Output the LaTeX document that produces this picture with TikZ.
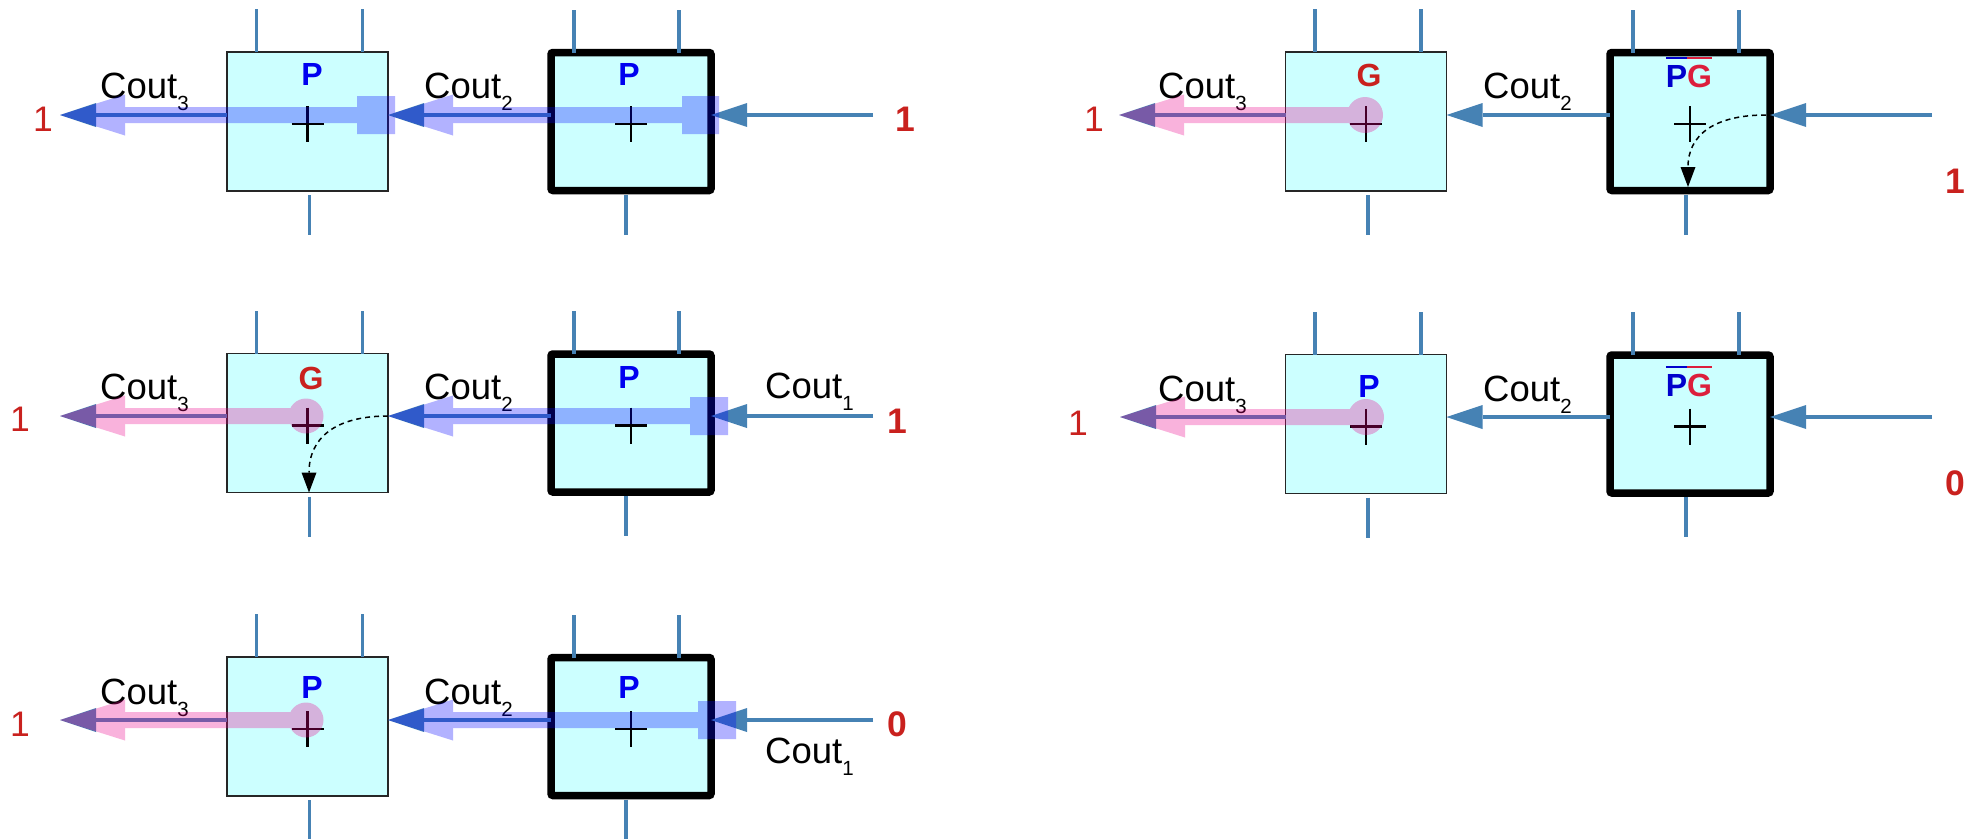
\documentclass[tikz,border=0pt]{standalone}
\usepackage{fontspec}
\setmainfont{Liberation Sans}
\usetikzlibrary{arrows.meta}
\definecolor{cyanfill}{HTML}{CCFFFF}
\definecolor{steel}{HTML}{4682B4}
\definecolor{pblue}{HTML}{0000F0}
\definecolor{pgblue}{HTML}{0000CC}
\definecolor{lred}{HTML}{C9211E}
\definecolor{gred}{HTML}{DC1E3C}
\newcommand\ovl[1]{\setbox0\hbox{#1}\rlap{\rule[28.3pt]{\wd0}{1.6pt}}\box0}
\newcommand\subs[1]{\raisebox{-12pt}{\fontsize{20.5}{20.5}\selectfont #1}}
\tikzset{
  thinbox/.style={draw=black!85, line width=1.3pt, fill=cyanfill, minimum width=161pt, minimum height=139pt, inner sep=0pt, outer sep=0pt},
  thickbox/.style={draw=black, line width=7.5pt, fill=cyanfill, rounded corners=2pt, minimum width=160pt, minimum height=138pt, inner sep=0pt, outer sep=0pt},
  pin/.style={steel, line width=3.5pt},
  sig/.style={steel, line width=3.5pt, -{Triangle[length=36pt,width=24pt,line width=0pt]}},
  hlb/.style={blue, line width=16pt, -{Triangle[length=65pt,width=41pt,line width=0pt]}},
  hlm/.style={magenta, line width=16pt, -{Triangle[length=65pt,width=41pt,line width=0pt]}},
  plusmark/.style={black, line width=2.7pt},
  flow/.style={black, line width=1.5pt, dash pattern=on 5pt off 4pt, -{Triangle[length=20pt,width=15pt,line width=0pt]}},
  coutlbl/.style={anchor=base west, inner sep=0pt, font=\fontsize{36.5}{40}\selectfont},
  boxlbl/.style={anchor=base, inner sep=0pt, font=\fontsize{32}{34}\selectfont\bfseries},
  num/.style={anchor=base, inner sep=0pt, text=lred, font=\fontsize{35.5}{40}\selectfont},
  bnum/.style={anchor=base, inner sep=0pt, text=lred, font=\fontsize{35.5}{40}\selectfont\bfseries},
}
\begin{document}
\begin{tikzpicture}[x=1pt,y=-1pt]
\fill[white] (0,0) rectangle (1975,838);
\useasboundingbox (0,0) rectangle (1975,838);

% boxes
\node[thinbox]  (L1a) at (307.5,121.5) {};
\node[thickbox] (L1b) at (631,121.5) {};
\node[thinbox]  (L2a) at (307.5,423) {};
\node[thickbox] (L2b) at (631,423) {};
\node[thinbox]  (L3a) at (307.5,726.5) {};
\node[thickbox] (L3b) at (631,726.5) {};
\node[thinbox]  (R1a) at (1366,121.5) {};
\node[thickbox] (R1b) at (1690,121.5) {};
\node[thinbox]  (R2a) at (1366,424) {};
\node[thickbox] (R2b) at (1690,424) {};

% pins and plus marks
\foreach \b/\l/\r/\d in {L1a/-51/55/2,L2a/-51/55/2,L3a/-51/55/2,R1a/-51/55/2,R2a/-51/55/2,
                         L1b/-57/48/-5,L2b/-57/48/-5,L3b/-57/48/-5,R1b/-57/49/-4,R2b/-57/49/-4}{
  \draw[pin] ([xshift=\l]\b.north) -- ++(0,-43);
  \draw[pin] ([xshift=\r]\b.north) -- ++(0,-43);
  \draw[pin] ([xshift=\d,yshift=-4]\b.south) -- ++(0,40);
  \coordinate (\b p) at ([yshift=-2.5]\b.center);
  \draw[plusmark] ([xshift=-16]\b p) -- ([xshift=16]\b p)
                  ([yshift=18]\b p) -- ([yshift=-18]\b p);
}

% signal levels and free ends
\coordinate (L1y) at (0,115);
\coordinate (L2y) at (0,416);
\coordinate (L3y) at (0,720);
\coordinate (R1y) at (0,115);
\coordinate (R2y) at (0,417);
\coordinate (L1in) at (873,115);  \coordinate (L1out) at (60,115);
\coordinate (L2in) at (873,416);  \coordinate (L2out) at (60,416);
\coordinate (L3in) at (873,720);  \coordinate (L3out) at (60,720);
\coordinate (R1in) at (1932,115); \coordinate (R1out) at (1119,115);
\coordinate (R2in) at (1932,417); \coordinate (R2out) at (1120,417);

\foreach \r in {L1,L2,L3,R1,R2}{
  \draw[sig] (\r in) -- (\r b.east |- \r y);
  \draw[sig] (\r b.west |- \r y) -- (\r a.east |- \r y);
  \draw[sig] (\r a.west |- \r y) -- (\r out);
}

% labels
\node[coutlbl] (L1c3) at (100,98) {Cout\subs{3}};
\node[coutlbl] (L1c2) at (424,98) {Cout\subs{2}};
\node[coutlbl] (L2c3) at (100,399) {Cout\subs{3}};
\node[coutlbl] (L2c2) at (424,399) {Cout\subs{2}};
\node[coutlbl] (L2c1) at (765,398) {Cout\subs{1}};
\node[coutlbl] (L3c3) at (100,704) {Cout\subs{3}};
\node[coutlbl] (L3c2) at (424,704) {Cout\subs{2}};
\node[coutlbl] (L3c1) at (765,763) {Cout\subs{1}};
\node[coutlbl] (R1c3) at (1158,98) {Cout\subs{3}};
\node[coutlbl] (R1c2) at (1483,98) {Cout\subs{2}};
\node[coutlbl] (R2c3) at (1158,401) {Cout\subs{3}};
\node[coutlbl] (R2c2) at (1483,401) {Cout\subs{2}};

\node[boxlbl, text=pblue] (L1aL) at (312,85) {P};
\node[boxlbl, text=pblue] (L1bL) at (629,85) {P};
\node[boxlbl, text=lred]  (L2aL) at (311,389) {G};
\node[boxlbl, text=pblue] (L2bL) at (629,388) {P};
\node[boxlbl, text=pblue] (L3aL) at (312,698) {P};
\node[boxlbl, text=pblue] (L3bL) at (629,698) {P};
\node[boxlbl, text=lred]  (R1aL) at (1369,86) {G};
\node[boxlbl] (R1bL) at (1689,87) {\textcolor{pgblue}{\ovl{P}}\textcolor{gred}{\ovl{G}}};
\node[boxlbl, text=pblue] (R2aL) at (1369,397) {P};
\node[boxlbl] (R2bL) at (1689,396) {\textcolor{pgblue}{\ovl{P}}\textcolor{gred}{\ovl{G}}};

\node[num]  (L1o) at (43,131) {1};
\node[bnum] (L1i) at (905,131) {1};
\node[num]  (L2o) at (20,431) {1};
\node[bnum] (L2i) at (897,433) {1};
\node[num]  (L3o) at (20,736) {1};
\node[bnum] (L3i) at (897,736) {0};
\node[num]  (R1o) at (1094,131) {1};
\node[bnum] (R1i) at (1955,193) {1};
\node[num]  (R2o) at (1078,435) {1};
\node[bnum] (R2i) at (1955,495) {0};

% blue (propagate) highlights
\begin{scope}[transparency group, opacity=0.3]
  \fill[blue] (682,96) rectangle (719,134);
  \fill[blue] (357,96) rectangle (395,134);
  \draw[hlb] (700,115) -- (L1a.east |- L1y);
  \draw[hlb] (376,115) -- (L1out);
  \fill[blue] (690,397) rectangle (728,435);
  \draw[hlb] (709,416) -- (L2a.east |- L2y);
  \fill[blue] (698,701) rectangle (736,739);
  \draw[hlb] (717,720) -- (L3a.east |- L3y);
\end{scope}
% magenta (generate) highlights
\begin{scope}[transparency group, opacity=0.3]
  \fill[magenta] (306,416) circle (17.5);
  \draw[hlm] (306,416) -- (L2out);
  \fill[magenta] (306,720) circle (17.5);
  \draw[hlm] (306,720) -- (L3out);
  \fill[magenta] (1365,115) circle (18);
  \draw[hlm] (1365,115) -- (R1out);
  \fill[magenta] (1366,417) circle (18);
  \draw[hlm] (1366,417) -- (R2out);
\end{scope}

% dashed flow inside boxes
\draw[flow] (L2a.east |- L2y) to[out=180,in=90,looseness=1.25] ([xshift=1.5]L2a.south);
\draw[flow] ([xshift=-4]R1b.east |- R1y) to[out=180,in=90,looseness=1.25] ([xshift=-2,yshift=3.5]R1b.south);
\end{tikzpicture}
\end{document}
